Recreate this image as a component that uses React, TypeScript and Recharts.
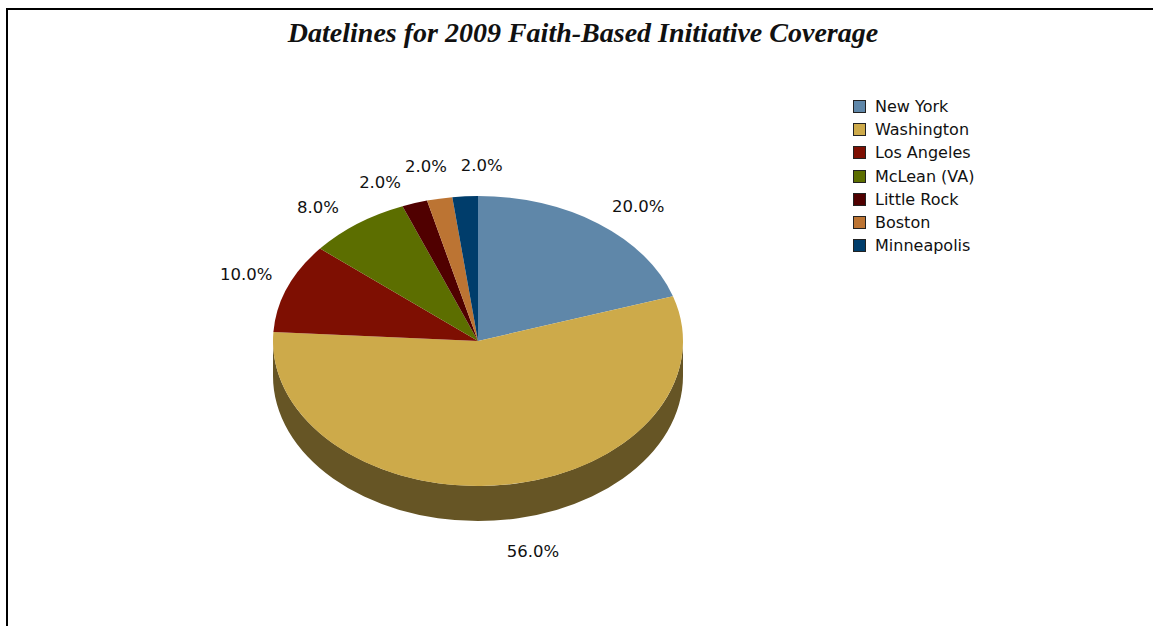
import React from "react";
import { PieChart, Pie, Legend } from "recharts";

// Dateline shares for the 2009 coverage
const cities = ["New York", "Washington", "Los Angeles", "McLean (VA)", "Little Rock", "Boston", "Minneapolis"];
const shares = [20, 56, 10, 8, 2, 2, 2];
const colors = ["#5f87a9", "#cdaa4a", "#7e0f02", "#5c6e00", "#500000", "#bc7433", "#003d6b"];

const rows = cities.map((name, i) => ({ name, value: shares[i], fill: colors[i] }));

const FONT = "'DejaVu Sans', sans-serif";
const TILT = 145 / 205;
const DEPTH = 35;
// Small hand adjustments that keep the narrow slices' labels from colliding
const labelNudge = [
  [-1, -3],
  [0, 14],
  [8, -7],
  [-4, -2],
  [-6, -4],
  [12, -15],
  [39, -13],
];

const rad = (d: number) => (d * Math.PI) / 180;

function halve(hex: string) {
  const n = parseInt(hex.slice(1), 16);
  const part = (s: number) => (((n >> s) & 255) >> 1).toString(16).padStart(2, "0");
  return `#${part(16)}${part(8)}${part(0)}`;
}

// Pie slice flattened into an ellipse, with the rim visible on the front half
function TiltedSlice(props: any) {
  const { cx, cy, outerRadius, startAngle, endAngle, fill } = props;
  const rx = outerRadius;
  const ry = outerRadius * TILT;
  const at = (clock: number) => [cx + rx * Math.sin(rad(clock)), cy - ry * Math.cos(rad(clock))];
  const from = 90 - startAngle;
  const to = 90 - endAngle;
  const [x1, y1] = at(from);
  const [x2, y2] = at(to);
  const large = to - from > 180 ? 1 : 0;
  const rimFrom = Math.max(from, 90);
  const rimTo = Math.min(to, 270);
  let rim = null;
  if (rimTo > rimFrom) {
    const [a1, b1] = at(rimFrom);
    const [a2, b2] = at(rimTo);
    rim = (
      <path
        d={`M${a1},${b1} A${rx},${ry} 0 0 1 ${a2},${b2} L${a2},${b2 + DEPTH} A${rx},${ry} 0 0 0 ${a1},${b1 + DEPTH} Z`}
        fill={halve(fill)}
      />
    );
  }
  return (
    <g>
      {rim}
      <path d={`M${cx},${cy} L${x1},${y1} A${rx},${ry} 0 ${large} 1 ${x2},${y2} Z`} fill={fill} />
    </g>
  );
}

function SliceLabel(props: any) {
  const { cx, cy, outerRadius, midAngle, value, index } = props;
  const clock = 90 - midAngle;
  const s = Math.sin(rad(clock));
  const c = Math.cos(rad(clock));
  const [dx, dy] = labelNudge[index];
  const x = cx + outerRadius * 1.12 * s + dx;
  const y = cy - outerRadius * TILT * 1.12 * c + (c < 0 ? DEPTH : 0) + dy;
  return (
    <text x={x} y={y} textAnchor={s >= 0 ? "start" : "end"} dominantBaseline="central" fontFamily={FONT} fontSize={16.5} fill="#111">
      {`${value.toFixed(1)}%`}
    </text>
  );
}

function CityLegend({ payload }: any) {
  return (
    <div style={{ fontFamily: FONT, fontSize: 16, color: "#111" }}>
      {(payload || []).map((item: any) => (
        <div key={item.value} style={{ display: "flex", alignItems: "center", height: 23.2, whiteSpace: "nowrap" }}>
          <span style={{ width: 11, height: 11, background: item.color, border: "1px solid #222", marginRight: 9, flex: "none" }} />
          <span>{item.value}</span>
        </div>
      ))}
    </div>
  );
}

export default function App() {
  return (
    <div style={{ position: "absolute", left: 0, top: 0, width: 1153, height: 626, overflow: "hidden", background: "#fff" }}>
      <div style={{ position: "absolute", left: 6, top: 8, right: 0, bottom: 0, borderLeft: "2px solid #000", borderTop: "2px solid #000" }} />
      <div style={{ position: "absolute", left: 0, top: 0 }}>
        <PieChart width={1153} height={626} margin={{ top: 0, right: 0, bottom: 0, left: 0 }}>
          <text
            x={583}
            y={32}
            textAnchor="middle"
            dominantBaseline="central"
            fontFamily="'Liberation Serif', serif"
            fontWeight="bold"
            fontStyle="italic"
            fontSize={28}
            fill="#111"
          >
            Datelines for 2009 Faith-Based Initiative Coverage
          </text>
          <Pie
            data={rows}
            dataKey="value"
            nameKey="name"
            cx={478}
            cy={341}
            outerRadius={205}
            startAngle={90}
            endAngle={-270}
            stroke="none"
            shape={TiltedSlice}
            label={SliceLabel}
            labelLine={false}
            isAnimationActive={false}
          />
          <Legend
            layout="vertical"
            content={CityLegend}
            itemSorter={null}
            wrapperStyle={{ position: "absolute", left: 853, top: 95, width: 180, bottom: "auto", margin: 0 }}
          />
        </PieChart>
      </div>
    </div>
  );
}
